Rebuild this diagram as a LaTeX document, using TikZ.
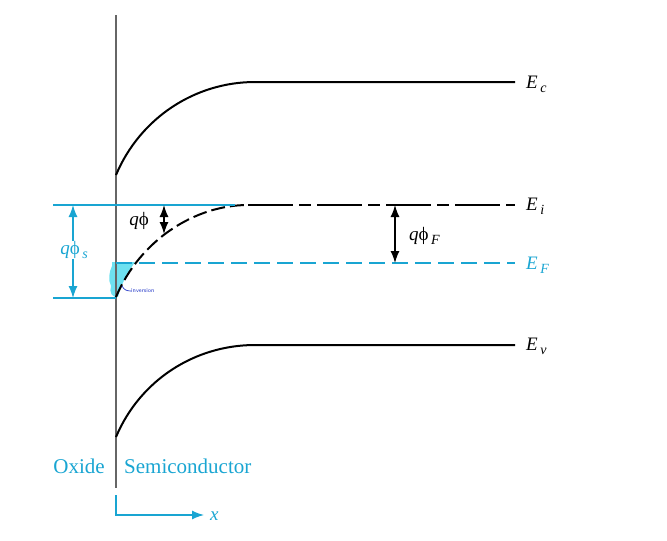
\documentclass[tikz,border=0pt]{standalone}
\usepackage{fontspec}
\setmainfont{Liberation Serif}
\usetikzlibrary{arrows.meta}
\definecolor{cy}{RGB}{25,165,210}
\definecolor{blob}{RGB}{110,225,240}
\definecolor{inv}{RGB}{40,60,200}
\newcommand{\sbs}[1]{\raisebox{-0.45ex}{\kern2.5pt\fontsize{14}{16}\selectfont #1}}
\tikzset{
  band/.style={line width=2pt,black},
  lbl/.style={font=\fontsize{19}{22}\selectfont\itshape,anchor=west,inner sep=0pt},
  cyl/.style={cy,line width=1.3pt},
  darr/.style={line width=1.3pt,{Latex[length=12pt,width=9pt]}-{Latex[length=12pt,width=9pt]}},
}
\begin{document}
\begin{tikzpicture}[x=1pt,y=-1pt]
\useasboundingbox (0,0) rectangle (667,541);
% inversion blob
\fill[blob] (112,262) -- (135,262) .. controls (128,272) and (122,282) .. (118,297)
  .. controls (112,298) and (109,292) .. (111,286) .. controls (108,280) and (109,272) .. (112,266) -- cycle;
% interface line
\coordinate (itop) at (116,15);
\coordinate (ibot) at (116,488);
\draw[line width=1.5pt,black!60] (itop) -- (ibot);
% Ec
\coordinate (c0) at (116,175); \coordinate (c1) at (255,82); \coordinate (c2) at (515,82);
\draw[band] (c0) .. controls (140,118) and (195,82) .. (c1) -- (c2);
\node[lbl] (Ec) at (526,84) {E\sbs{c}};
% Ev
\coordinate (v0) at (116,437); \coordinate (v1) at (255,345); \coordinate (v2) at (515,345);
\draw[band] (v0) .. controls (140,380) and (195,345) .. (v1) -- (v2);
\node[lbl] (Ev) at (526,346) {E\sbs{v}};
% Ei
\coordinate (i0) at (116,297); \coordinate (i1) at (248,205); \coordinate (i2) at (515,205);
\draw[band,dash pattern=on 14pt off 5pt] (i0) .. controls (140,240) and (195,205) .. (i1);
\draw[band,dash pattern=on 45pt off 6pt on 12pt off 6pt] (i1) -- (i2);
\node[lbl] (Ei) at (526,206) {E\sbs{i}};
% EF
\coordinate (f0) at (116,263); \coordinate (f2) at (515,263);
\draw[cy,line width=2pt,dash pattern=on 16pt off 7pt] (f0) -- (f2);
\node[lbl,cy] (EF) at (526,265) {E\sbs{F}};
% cyan reference lines
\coordinate (t0) at (53,205); \coordinate (t1) at (235,205);
\coordinate (b0) at (53,298); \coordinate (b1) at (116,298);
\draw[cyl] (t0) -- (t1);
\draw[cyl] (b0) -- (b1);
% q phi_s
\node[lbl,cy,anchor=center] (qps) at (74,250) {q\textup{ϕ}\sbs{s}};
\coordinate (s0) at (73,205); \coordinate (s1) at (73,298);
\draw[cy,line width=1.3pt,-{Latex[length=12pt,width=9pt]}] (qps.north -| s0) -- (s0);
\draw[cy,line width=1.3pt,-{Latex[length=12pt,width=9pt]}] (qps.south -| s1) -- (s1);
% q phi
\coordinate (p0) at (164,205); \coordinate (p1) at (164,234);
\draw[darr] (p0) -- (p1);
\node[lbl,anchor=center] (qp) at (139,221) {q\textup{ϕ}};
% q phi_F
\coordinate (F0) at (395,205); \coordinate (F1) at (395,263);
\draw[darr] (F0) -- (F1);
\node[lbl,anchor=west] (qpF) at (409,236) {q\textup{ϕ}\sbs{F}};
% inversion label
\coordinate (ih) at (122,286);
\node[inv,font=\fontsize{6}{7}\selectfont\sffamily,anchor=west,inner sep=0pt] (invl) at (131,291) {inversion};
\draw[inv,line width=0.7pt] (invl.west) .. controls (127,291) and (124,290) .. (ih);
% Oxide / Semiconductor
\node[cy,font=\fontsize{21}{24}\selectfont,anchor=east,inner sep=0pt] (ox) at (105,466) {Oxide};
\node[cy,font=\fontsize{21}{24}\selectfont,anchor=west,inner sep=0pt] (sc) at (124,466) {Semiconductor};
% x axis
\coordinate (a0) at (116,495); \coordinate (a1) at (116,515);
\node[lbl,cy] (xl) at (210,516) {x};
\coordinate (a2) at (204,515);
\draw[cy,line width=1.3pt,-{Latex[length=12pt,width=9pt]}] (a0) -- (a1) -- (a2);
\end{tikzpicture}
\end{document}
